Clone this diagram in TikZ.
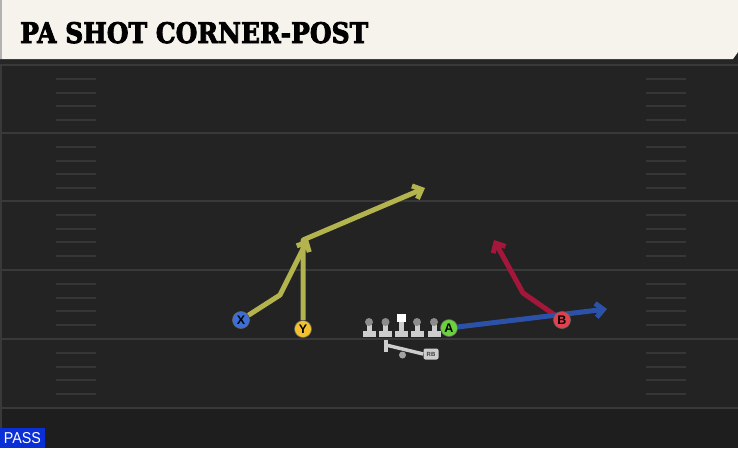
\documentclass[tikz,border=0pt]{standalone}
\usepackage{fontspec}
\usepackage{graphicx}
\newfontfamily\titlefont[BoldFeatures={FakeBold=3}]{DejaVu Serif}
\newfontfamily\labelfont{Liberation Sans}
\usetikzlibrary{arrows.meta,positioning}
\definecolor{field}{HTML}{232323}
\definecolor{fielddark}{HTML}{1E1E1E}
\definecolor{yardline}{HTML}{393939}
\definecolor{hashline}{HTML}{363636}
\definecolor{cream}{HTML}{F5F3EC}
\definecolor{olive}{HTML}{B4B44E}
\definecolor{crimson}{HTML}{A5173A}
\definecolor{navy}{HTML}{2B52A8}
\definecolor{passblue}{HTML}{0B2FD6}
\definecolor{xblue}{HTML}{3C6FD6}
\definecolor{ygold}{HTML}{F2C12E}
\definecolor{agreen}{HTML}{6BD13F}
\definecolor{bred}{HTML}{E3404B}
\definecolor{linegray}{HTML}{CDCDCD}
\definecolor{headgray}{HTML}{8C8C8C}
\pgfdeclarelayer{front}
\pgfsetlayers{main,front}
\tikzset{
    route/.style={
        line width=5pt,
        line join=round,
        -{Straight Barb[length=7.5pt,width=14pt]}
    },
}

\begin{document}
\begin{tikzpicture}[x=1pt,y=-1pt]
%% styles
\tikzstyle{player}=[circle,minimum size=17pt,inner sep=0pt,draw=black!60,line width=0.6pt,font=\labelfont\bfseries\fontsize{12.5}{12.5}\selectfont]
\tikzstyle{hash}=[hashline,line width=1.2pt]
\tikzstyle{yard}=[yardline,line width=2pt]

\useasboundingbox (0,0) rectangle (738,448);

%% field
\fill[field] (0,0) rectangle (738,448);
\fill[fielddark] (0,408) rectangle (738,448);
\foreach \y in {65,133,201,270,339,408}
\draw[yard] (0,\y) -- (738,\y);
\foreach \y in {65,133,201,270,339}
\foreach \d in {14,28,41,55} {
\draw[hash] (56,\y+\d) -- (96,\y+\d);
\draw[hash] (646,\y+\d) -- (686,\y+\d);
}
\fill[yardline] (0,59) rectangle (2,448);

%% header
\fill[black!85] (0,59) rectangle (738,64);
\fill[cream] (0,0) -- (738,0) -- (738,52) -- (733,59) -- (0,59) -- cycle;
\fill[black!30] (0,0) rectangle (2,59);
\node[anchor=base west,inner sep=0pt] (title) at (20,43) {\resizebox{348pt}{21pt}{\titlefont\bfseries PA SHOT CORNER-POST}};

%% players
\begin{pgfonlayer}{front}
% receivers
\foreach \name/\x/\y/\col in {X/241/320/xblue,Y/303/329/ygold,A/449/328/agreen,B/562/320/bred}
\node[player,fill=\col] (\name) at (\x,\y) {\name};
% line
\foreach \name/\x in {LT/369,LG/385.5,RG/417,RT/434} {
\coordinate (\name) at (\x,337);
\fill[linegray] (\x-6.5pt,331) rectangle (\x+6.5pt,337);
\fill[linegray] (\x-2.5pt,322) rectangle (\x+2.5pt,332);
\fill[headgray] (\x,322) circle (4pt);
}
\coordinate (C) at (401,337);
\fill[linegray] (395,331) rectangle (407.5,337);
\fill[linegray] (399,321) rectangle (403.5,332);
\fill[white] (396.5,314) rectangle (405.5,322);
% back
\node[fill=linegray,rounded corners=2pt,minimum width=15pt,minimum height=11pt,inner sep=0pt,font=\labelfont\bfseries\fontsize{6}{6}\selectfont,text=black!75] (RB) at (431,354) {RB};
\coordinate (RBbar) at (386,345);
\draw[linegray,line width=3.5pt] (RBbar) -- (RB.west);
\fill[linegray] (384,340) rectangle (388,352);
\fill[headgray!80] (402.5,355) circle (3.5pt);
\end{pgfonlayer}

%% routes
\coordinate (X1) at (280,295);
\coordinate (X2) at (308,239);
\coordinate (Y1) at (303,240);
\coordinate (Y2) at (425,188);
\coordinate (B1) at (523,293);
\coordinate (B2) at (494,240);
\coordinate (A1) at (607,309);
\draw[route,olive] (X) -- (X1) -- (X2);
\draw[route,olive] (Y) -- (Y1) -- (Y2);
\draw[route,crimson] (B) -- (B1) -- (B2);
\draw[route,navy] (A) -- (A1);

%% play type
\fill[passblue] (0,428) rectangle (45,448);
\node[inner sep=0pt,text=white] (pass) at (22.5,438.5) {\resizebox{37pt}{11pt}{\labelfont PASS}};
\end{tikzpicture}
\end{document}
